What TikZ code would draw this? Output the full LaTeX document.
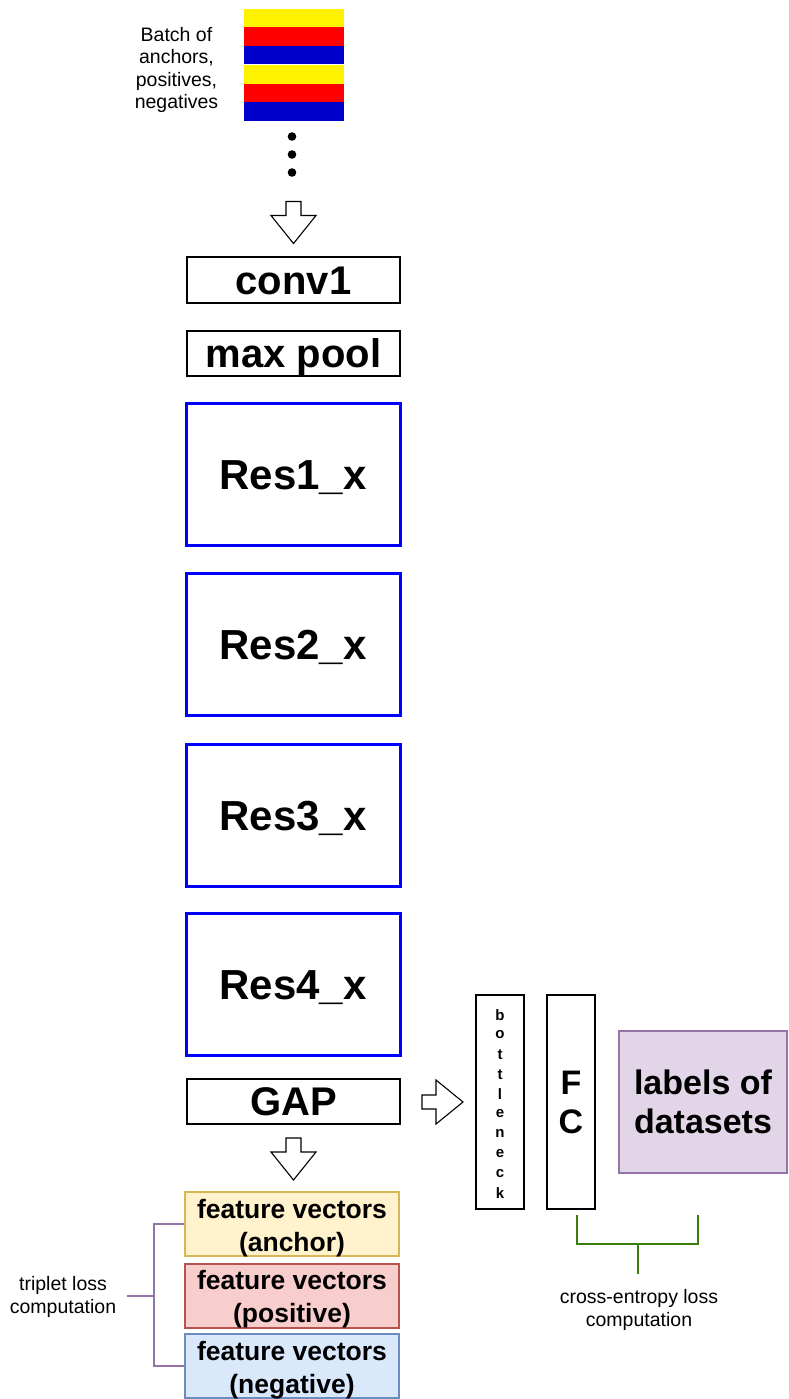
\documentclass[tikz,border=0pt]{standalone}
\usepackage{fontspec}
\setmainfont{Liberation Sans}
\definecolor{ylwF}{HTML}{FFF2CC}\definecolor{ylwD}{HTML}{D6B656}
\definecolor{redF}{HTML}{F8CECC}\definecolor{redD}{HTML}{B85450}
\definecolor{bluF}{HTML}{DAE8FC}\definecolor{bluD}{HTML}{6C8EBF}
\definecolor{purF}{HTML}{E1D5E7}\definecolor{purD}{HTML}{9673A6}
\definecolor{grnD}{HTML}{3A7D0A}
\definecolor{stripeB}{HTML}{0000CC}
\begin{document}
\begin{tikzpicture}[x=1pt,y=-1pt,
  blk/.style={draw=black, line width=2pt, fill=white, inner sep=0pt, font=\fontsize{40}{46}\selectfont\bfseries, text height=28.8pt, text depth=0pt},
  res/.style={draw=blue, line width=3pt, fill=white, inner sep=0pt, font=\fontsize{42}{48}\selectfont\bfseries, text height=30.2pt, text depth=0pt, minimum width=214, minimum height=142},
  feat/.style={line width=2pt, inner sep=0pt, minimum width=214, minimum height=64},
  feattxt/.style={inner sep=0pt, align=center, font=\fontsize{26.5}{33}\selectfont\bfseries},
  small/.style={align=center, font=\fontsize{19.5}{22.5}\selectfont},
  barbox/.style={draw=black, line width=2pt, fill=white, inner sep=0pt, minimum width=48, minimum height=214},
  darrow/.pic={\draw[line width=1.1pt, fill=white, line join=miter] (-7.5,0) -- (7.5,0) -- (7.5,14) -- (22.5,14) -- (0,42) -- (-22.5,14) -- (-7.5,14) -- cycle;},
  rarrow/.pic={\draw[line width=1.1pt, fill=white, line join=miter] (0,-7) -- (14,-7) -- (14,-22) -- (41,0) -- (14,22) -- (14,7) -- (0,7) -- cycle;}
]
\useasboundingbox (0,0) rectangle (788,1399);

% batch stripes
\fill[yellow] (244,9) rectangle (344,27.5);
\fill[red] (244,27.5) rectangle (344,46);
\fill[stripeB] (244,46) rectangle (344,64.5);
\fill[yellow] (244,65.5) rectangle (344,84);
\fill[red] (244,84) rectangle (344,102.5);
\fill[stripeB] (244,102.5) rectangle (344,121);
\node[small] (batchlbl) at (176.5,70) {Batch of\\anchors,\\positives,\\negatives};

% dots
\fill (292,136.5) circle (4.3);
\fill (292,154.5) circle (4.3);
\fill (292,172.5) circle (4.3);

\pic at (293.5,201.5) {darrow};

% main column
\node[blk, minimum width=213, minimum height=46] (conv1) at (293.5,280) {conv1};
\node[blk, minimum width=213, minimum height=45] (maxpool) at (293.5,353.5) {max pool};
\node[res] (res1) at (293,474) {Res1\_x};
\node[res] (res2) at (293,644.5) {Res2\_x};
\node[res] (res3) at (293,815.5) {Res3\_x};
\node[res] (res4) at (293,984) {Res4\_x};
\node[blk, minimum width=213, minimum height=45] (gap) at (293.5,1101.5) {GAP};

\pic at (293.5,1138) {darrow};
\pic at (422,1102) {rarrow};

% feature vectors
\node[feat, draw=ylwD, fill=ylwF] (anchor) at (292,1224) {};
\node[feattxt] (anchortxt) at ([yshift=-4pt]anchor.center) {feature vectors\\(anchor)};
\node[feat, draw=redD, fill=redF] (pos) at (292,1295.5) {};
\node[feattxt] (postxt) at ([yshift=-4pt]pos.center) {feature vectors\\(positive)};
\node[feat, draw=bluD, fill=bluF] (neg) at (292,1366) {};
\node[feattxt] (negtxt) at ([yshift=-4pt]neg.center) {feature vectors\\(negative)};

% triplet bracket
\draw[purD, line width=2pt] (anchor.west) -- ++(-30,0) coordinate (tb1) -- (tb1 |- neg.west) -- (neg.west);
\coordinate (tmid) at (154,1296);
\draw[purD, line width=2pt] (tmid) -- (127,1296);
\node[small] (triplbl) at (63,1297) {triplet loss\\computation};

% bottleneck, FC, labels
\node[barbox] (bneck) at (500,1102) {};
\foreach \c [count=\i] in {b,o,t,t,l,e,n,e,c,k}{
  \node[font=\fontsize{15}{15}\selectfont\bfseries, inner sep=0pt] at (500,{1015+(\i-1)*19.8}) {\c};
}
\node[barbox] (fc) at (571,1102) {};
\node[font=\fontsize{34}{39}\selectfont\bfseries, align=center, inner sep=0pt] at (fc.center) {F\\C};
\node[draw=purD, fill=purF, line width=2pt, minimum width=168, minimum height=142, inner sep=0pt, align=center, font=\fontsize{34}{39}\selectfont\bfseries] (labels) at (703,1102) {labels of\\datasets};

% cross-entropy bracket
\coordinate (cl) at (577,1215);
\coordinate (cr) at (698,1215);
\draw[grnD, line width=2pt] (cl) -- (577,1244) -- (698,1244) -- (cr);
\draw[grnD, line width=2pt] (638,1244) -- (638,1274) coordinate (cbot);
\node[small] (celbl) at (639,1310) {cross-entropy loss\\computation};
\end{tikzpicture}
\end{document}
